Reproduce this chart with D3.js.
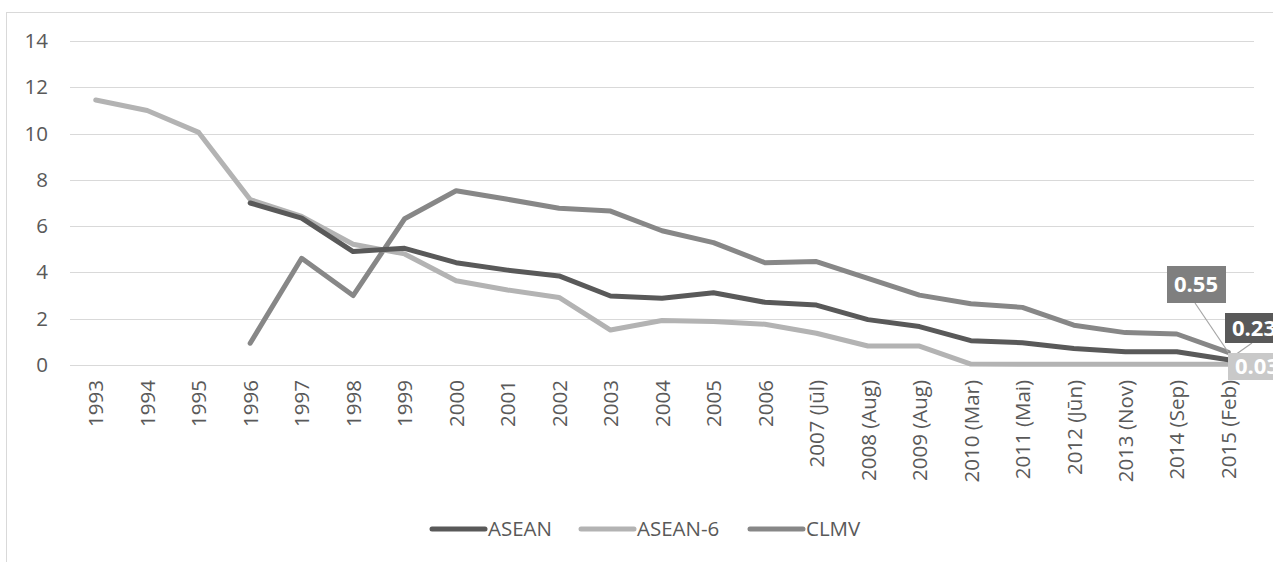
<!DOCTYPE html>
<html>
<head>
<meta charset="utf-8" />
<title>ASEAN tariffs</title>
<style>
body { margin: 0; background: #fff; }
svg { display: block; }
text { font-family: "Open Sans", sans-serif; fill: #595959; }
.grid line { stroke: #d9d9d9; stroke-width: 1px; }
.series { fill: none; stroke-width: 5px; stroke-linejoin: round; stroke-linecap: round; }
</style>
</head>
<body>
<script src="https://cdn.jsdelivr.net/npm/d3@7"></script>
<script>
var categories = ["1993", "1994", "1995", "1996", "1997", "1998", "1999", "2000", "2001", "2002",
    "2003", "2004", "2005", "2006", "2007 (Jūl)", "2008 (Aug)", "2009 (Aug)", "2010 (Mar)",
    "2011 (Mai)", "2012 (Jūn)", "2013 (Nov)", "2014 (Sep)", "2015 (Feb)"];

var asean = [null, null, null, 7.0, 6.35, 4.9, 5.04, 4.42, 4.1, 3.85,
    2.98, 2.88, 3.12, 2.71, 2.59, 1.96, 1.66, 1.05, 0.96, 0.71, 0.57, 0.57, 0.23];

var asean6 = [11.45, 11.0, 10.05, 7.15, 6.42, 5.22, 4.8, 3.64, 3.24, 2.92,
    1.51, 1.92, 1.88, 1.76, 1.37, 0.82, 0.82, 0.04, 0.03, 0.03, 0.03, 0.03, 0.03];

var clmv = [null, null, null, 0.94, 4.61, 3.0, 6.32, 7.53, 7.16, 6.77,
    6.65, 5.8, 5.29, 4.42, 4.47, 3.74, 3.02, 2.65, 2.49, 1.72, 1.4, 1.34, 0.55];

var yTicks = [0, 2, 4, 6, 8, 10, 12, 14];

var seriesNames = ["ASEAN", "ASEAN-6", "CLMV"];
var seriesColors = ["#595959", "#b3b3b3", "#878787"];
var labelColors = ["#595959", "#c9c9c9", "#7f7f7f"];

var width = 1273, height = 562;

var svg = d3.select("body").append("svg")
    .attr("width", width)
    .attr("height", height);

// chart border (runs off the right and bottom of the picture)
svg.append("rect")
    .attr("x", 6.5).attr("y", 12.5)
    .attr("width", 1300).attr("height", 600)
    .attr("fill", "none")
    .attr("stroke", "#d9d9d9");

var x = d3.scalePoint()
    .domain(categories)
    .range([70, 1254])
    .padding(0.5);

var y = d3.scaleLinear()
    .domain([0, 14])
    .range([365, 41]);

// gridlines
svg.append("g").attr("class", "grid")
  .selectAll("line")
    .data(yTicks)
  .enter().append("line")
    .attr("x1", 70).attr("x2", 1254)
    .attr("y1", function(d) { return Math.round(y(d)) + 0.5; })
    .attr("y2", function(d) { return Math.round(y(d)) + 0.5; });

// y axis labels
var yAxis = d3.axisLeft(y).tickValues(yTicks).tickSize(0).tickPadding(0);
var yg = svg.append("g")
    .attr("transform", "translate(48,0)")
    .call(yAxis);
yg.select(".domain").remove();
yg.selectAll("text")
    .style("font-family", "'Open Sans', sans-serif")
    .style("font-size", "20.5px")
    .attr("fill", "#595959");

// x axis labels, rotated
var xAxis = d3.axisBottom(x).tickSize(0).tickPadding(0);
var xg = svg.append("g")
    .attr("transform", "translate(0,380)")
    .call(xAxis);
xg.select(".domain").remove();
xg.selectAll("text")
    .style("font-family", "'Open Sans', sans-serif")
    .style("font-size", "20.5px")
    .attr("fill", "#595959")
    .attr("transform", "rotate(-90)")
    .attr("x", 0)
    .attr("y", 0)
    .attr("dy", "0.35em")
    .style("text-anchor", "end");

// lines
var allSeries = [asean, asean6, clmv];
var line = d3.line()
    .defined(function(d) { return d != null; })
    .x(function(d, i) { return x(categories[i]); })
    .y(function(d) { return y(d); });

// draw CLMV first, then ASEAN-6, then ASEAN on top
[2, 1, 0].forEach(function(k) {
    svg.append("path")
        .datum(allSeries[k])
        .attr("class", "series")
        .attr("stroke", seriesColors[k])
        .attr("d", line);
});

// data labels for the last point
var last = categories.length - 1;
var px = x(categories[last]);
var labelBoxes = [
    { k: 2, bx: 1167, by: 266, w: 59, h: 37, lx: 1195, ly: 303 },
    { k: 0, bx: 1225, by: 313, w: 62, h: 30, lx: 1252, ly: 343 },
    { k: 1, bx: 1228, by: 353, w: 62, h: 27, lx: null, ly: null }
];

labelBoxes.forEach(function(b) {
    var v = allSeries[b.k][last];
    if (b.lx != null) {
        svg.append("line")
            .attr("x1", b.lx).attr("y1", b.ly)
            .attr("x2", px).attr("y2", y(v))
            .attr("stroke", "#a6a6a6")
            .attr("stroke-width", 1.2);
    }
});

labelBoxes.forEach(function(b) {
    var v = allSeries[b.k][last];
    svg.append("rect")
        .attr("x", b.bx).attr("y", b.by)
        .attr("width", b.w).attr("height", b.h)
        .attr("fill", labelColors[b.k]);
    svg.append("text")
        .attr("x", b.bx + 7)
        .attr("y", b.by + b.h / 2)
        .attr("dy", "0.36em")
        .style("font-size", "22px")
        .style("font-weight", "bold")
        .style("fill", "#fff")
        .text(d3.format(".2f")(v));
});

// legend
var legendX = [432, 581, 750];
var legend = svg.append("g");
seriesNames.forEach(function(name, k) {
    legend.append("line")
        .attr("x1", legendX[k]).attr("x2", legendX[k] + 53)
        .attr("y1", 529).attr("y2", 529)
        .attr("stroke", seriesColors[k])
        .attr("stroke-width", 5)
        .attr("stroke-linecap", "round");
    legend.append("text")
        .attr("x", legendX[k] + 56)
        .attr("y", 529)
        .attr("dy", "0.36em")
        .style("font-size", "20.5px")
        .text(name);
});
</script>
</body>
</html>
